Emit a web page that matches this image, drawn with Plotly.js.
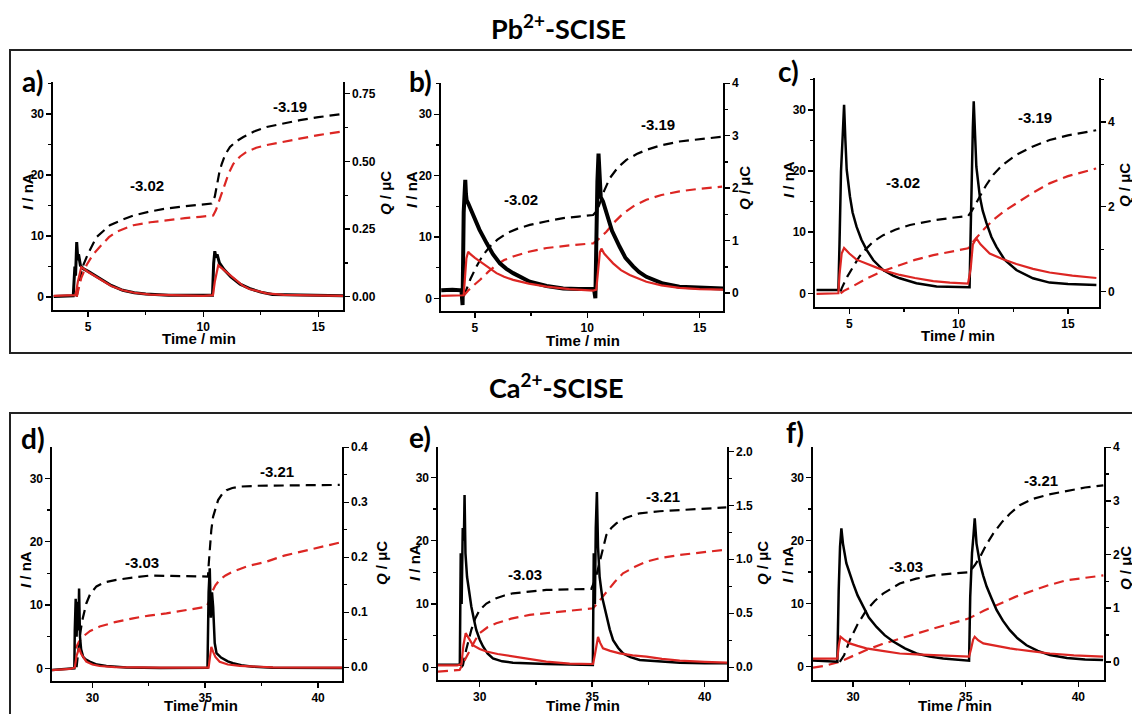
<!DOCTYPE html>
<html><head><meta charset="utf-8">
<script src="https://cdn.plot.ly/plotly-3.0.1.min.js"></script>
<style>html,body{margin:0;padding:0;background:#fff;} #chart{width:1132px;height:714px;}</style>
</head><body><div id="chart"></div>
<script>
// ---------------- DATA ----------------
// Panel a (Pb2+, top-left)
var a_tIk = [3.5,4.35,4.42,4.45,4.5,4.55,4.58,4.62,4.66,4.7,4.8,5.0,5.25,5.5,6.0,6.5,7.0,7.5,8.5,9.5,10.4,10.45,10.5,10.55,10.6,10.7,10.9,11.2,11.6,12.0,12.5,13.0,14.0,15.0,16.1];
var a_Ik  = [0.1,0.2,5.0,3.5,9.0,6.0,7.0,5.5,5.2,5.0,4.6,4.2,3.6,3.0,1.9,1.1,0.7,0.5,0.3,0.3,0.3,5.5,7.5,6.5,7.0,5.6,4.5,3.3,2.1,1.4,0.8,0.4,0.3,0.2,0.2];
var a_tIr = [3.5,4.45,4.55,4.7,5.0,5.5,6.0,6.5,7.0,7.7,8.5,10.0,10.42,10.5,10.65,11.0,11.3,11.7,12.0,12.75,13.5,15.0,16.1];
var a_Ir  = [0.2,0.3,2.5,4.9,4.1,2.9,1.8,1.1,0.7,0.4,0.3,0.2,0.3,2.5,5.2,4.1,3.0,1.9,1.3,0.6,0.35,0.2,0.2];
var a_tQk = [4.5,4.64,4.8,5.0,5.36,5.94,6.5,6.96,7.7,8.4,9.2,9.86,10.36,10.5,10.58,10.7,10.8,10.95,11.16,11.45,11.74,12.2,12.75,13.5,14.2,15.0,15.94];
var a_Qk  = [0.0,0.07,0.12,0.16,0.22,0.264,0.285,0.30,0.315,0.326,0.334,0.34,0.344,0.37,0.41,0.46,0.49,0.525,0.553,0.575,0.59,0.61,0.627,0.64,0.652,0.663,0.674];
var a_tQr = [4.5,4.7,4.93,5.2,5.5,5.9,6.23,6.96,7.7,8.4,9.2,9.86,10.43,10.55,10.65,10.8,10.94,11.1,11.3,11.6,11.88,12.3,12.75,13.5,14.2,15.0,15.94];
var a_Qr  = [0.0,0.07,0.117,0.155,0.184,0.22,0.24,0.264,0.275,0.283,0.29,0.295,0.30,0.32,0.344,0.385,0.418,0.455,0.49,0.518,0.535,0.55,0.56,0.573,0.584,0.597,0.609];

// Panel b
var b_tIk = [3.5,4.0,4.4,4.45,4.5,4.53,4.57,4.6,4.63,4.7,4.8,4.93,5.2,5.52,5.8,6.11,6.4,6.7,7.0,7.44,8.19,8.93,9.6,10.3,10.36,10.4,10.45,10.5,10.53,10.56,10.6,10.7,10.85,11.1,11.44,11.7,12.04,12.3,12.63,13.0,13.37,14.1,15.0,16.1];
var b_Ik  = [1.3,1.4,1.3,-1.1,14.0,18.0,19.3,17.0,16.0,15.5,14.6,13.3,11.2,9.0,7.2,5.7,4.8,4.1,3.5,2.7,2.0,1.6,1.5,1.5,0.0,15.0,19.0,23.6,20.0,18.0,16.5,15.8,13.8,11.0,8.4,6.6,5.2,4.3,3.5,2.9,2.4,1.9,1.7,1.6];
var b_tIr = [3.5,4.4,4.5,4.56,4.62,4.7,4.8,5.0,5.22,5.6,5.96,6.3,6.7,7.4,8.19,9.2,10.26,10.4,10.5,10.56,10.63,10.75,10.9,11.15,11.5,11.89,12.3,12.63,13.3,14.1,15.0,16.1];
var b_Ir  = [0.4,0.4,0.5,3.5,6.5,7.6,7.2,6.6,6.0,5.0,4.1,3.5,3.0,2.4,1.9,1.5,1.25,1.4,5.0,7.5,8.1,7.3,6.7,5.7,4.6,3.8,3.2,2.7,2.1,1.7,1.5,1.4];
var b_tQk = [4.5,4.56,4.8,5.07,5.35,5.67,6.0,6.41,6.9,7.44,8.2,8.93,9.6,10.26,10.45,10.56,10.75,11.0,11.35,11.74,12.2,12.63,13.3,14.1,15.0,15.96];
var b_Qk  = [-0.05,0.0,0.27,0.51,0.72,0.89,1.02,1.14,1.23,1.30,1.37,1.43,1.46,1.49,1.58,1.71,1.95,2.19,2.39,2.54,2.65,2.73,2.82,2.89,2.94,2.98];
var b_tQr = [4.48,4.7,5.0,5.22,5.6,5.96,6.3,6.7,7.4,8.19,9.2,10.26,10.5,10.85,11.2,11.6,12.1,12.63,13.3,14.1,15.0,16.0];
var b_Qr  = [-0.06,0.05,0.17,0.25,0.41,0.54,0.63,0.70,0.79,0.86,0.91,0.95,1.03,1.17,1.35,1.52,1.67,1.78,1.87,1.94,1.99,2.03];

// Panel c
var c_tIk = [3.5,4.5,4.55,4.62,4.7,4.76,4.82,4.88,5.03,5.15,5.33,5.55,5.79,6.1,6.55,7.0,7.31,8.07,8.99,9.8,10.5,10.55,10.6,10.65,10.69,10.75,10.81,10.97,11.1,11.27,11.5,11.73,12.1,12.64,13.4,14.16,15.0,16.3];
var c_Ik  = [0.55,0.55,8.0,20.0,26.0,30.8,25.0,20.2,15.8,13.2,10.9,8.8,7.1,5.4,3.8,2.9,2.45,1.64,1.1,1.0,1.0,10.0,22.0,27.0,31.4,25.0,20.7,15.8,13.5,11.5,9.2,7.6,5.5,3.8,2.45,1.75,1.5,1.36];
var c_tIr = [3.5,4.5,4.55,4.65,4.76,5.0,5.33,5.8,6.25,6.8,7.31,8.0,8.84,9.6,10.43,10.55,10.65,10.81,11.0,11.42,12.0,12.64,13.4,14.16,15.2,16.3];
var c_Ir  = [-0.1,0.0,3.0,6.5,7.4,6.5,5.5,4.8,4.2,3.5,3.0,2.5,2.0,1.75,1.6,4.0,8.0,9.0,8.0,6.5,5.6,4.8,4.0,3.4,2.9,2.5];
var c_tQk = [4.6,4.65,4.9,5.18,5.45,5.79,6.1,6.55,7.1,7.77,8.4,8.99,9.7,10.43,10.6,10.8,10.97,11.25,11.58,12.0,12.64,13.4,14.16,15.0,16.29];
var c_Qk  = [0.0,0.08,0.35,0.59,0.82,1.02,1.18,1.33,1.46,1.57,1.64,1.69,1.74,1.78,1.9,2.08,2.24,2.5,2.75,2.98,3.22,3.42,3.57,3.68,3.80];
var c_tQr = [4.6,4.75,5.2,5.79,6.5,7.31,8.0,8.84,9.6,10.43,10.7,11.12,11.6,12.1,12.64,13.4,14.16,15.0,16.29];
var c_Qr  = [-0.04,0.02,0.14,0.31,0.48,0.63,0.75,0.86,0.94,1.02,1.2,1.45,1.7,1.9,2.08,2.33,2.55,2.72,2.90];

// Panel d (Ca2+, bottom-left)
var d_tIk = [28.2,28.8,29.2,29.22,29.26,29.3,29.34,29.38,29.41,29.45,29.5,29.59,29.7,29.88,30.2,30.62,31.5,33.0,34.5,35.1,35.15,35.2,35.25,35.3,35.35,35.42,35.5,35.7,36.0,36.23,36.6,37.12,38.0,39.5,41.1];
var d_Ik  = [-0.25,-0.1,0.0,6.0,11.0,5.0,10.5,6.0,12.6,5.0,3.0,1.8,1.4,1.05,0.6,0.37,0.15,0.05,0.05,0.1,12.0,15.8,8.0,12.0,9.7,4.0,2.4,1.7,1.1,0.8,0.5,0.26,0.1,0.05,0.05];
var d_tIr = [28.2,29.0,29.22,29.3,29.41,29.5,29.73,30.0,30.32,31.0,33.0,35.15,35.2,35.27,35.35,35.45,35.64,36.0,36.53,38.0,41.1];
var d_Ir  = [-0.3,-0.1,0.1,2.0,3.2,2.3,1.05,0.6,0.37,0.2,0.1,0.1,1.5,3.4,2.6,1.8,1.05,0.6,0.4,0.15,0.1];
var d_tQk = [29.3,29.44,29.55,29.63,29.73,29.9,30.18,30.5,31.06,31.8,32.54,33.5,34.5,35.12,35.15,35.2,35.27,35.35,35.45,35.57,35.75,35.94,36.2,36.53,37.3,38.45,39.5,40.96];
var d_Qk  = [0.0,0.056,0.085,0.10,0.116,0.133,0.147,0.154,0.159,0.163,0.1667,0.166,0.165,0.165,0.185,0.215,0.25,0.274,0.29,0.304,0.315,0.322,0.326,0.3285,0.330,0.330,0.331,0.3315];
var d_tQr = [29.26,29.4,29.59,29.9,30.32,31.0,31.8,32.5,33.28,34.2,35.05,35.15,35.27,35.45,35.64,35.9,36.23,36.9,37.71,38.5,39.19,40.1,40.96];
var d_Qr  = [0.0345,0.046,0.056,0.066,0.074,0.082,0.089,0.094,0.098,0.104,0.110,0.118,0.1345,0.149,0.159,0.167,0.174,0.184,0.192,0.203,0.210,0.219,0.2267];

// Panel e
var e_tIk = [28.15,29.0,29.12,29.16,29.2,29.25,29.3,29.33,29.37,29.44,29.53,29.63,29.75,29.85,30.0,30.15,30.35,30.59,31.0,31.48,32.96,34.0,35.03,35.07,35.12,35.16,35.21,35.26,35.33,35.45,35.63,35.78,35.93,36.15,36.37,36.7,37.11,38.0,38.89,40.0,41.0];
var e_Ik  = [0.4,0.4,0.4,18.0,10.0,22.0,20.0,27.2,18.0,14.3,11.8,9.6,7.5,5.9,4.4,3.3,2.2,1.4,0.95,0.74,0.53,0.45,0.37,18.0,10.0,22.0,27.7,19.0,14.3,11.0,8.0,6.0,4.3,3.1,2.2,1.6,1.16,0.9,0.74,0.65,0.63];
var e_tIr = [28.15,29.0,29.19,29.28,29.38,29.5,29.7,30.0,30.3,30.8,31.48,32.2,32.96,34.0,35.04,35.12,35.2,35.26,35.35,35.48,35.8,36.22,36.8,37.41,38.1,38.89,40.0,41.0];
var e_Ir  = [0.3,0.3,0.5,3.5,5.4,4.7,3.5,2.9,2.5,2.1,1.7,1.3,0.9,0.6,0.53,2.0,4.0,4.8,3.9,3.0,2.6,2.2,1.9,1.7,1.35,1.05,0.85,0.74];
var e_tQk = [29.2,29.26,29.4,29.5,29.63,29.8,30.0,30.3,30.74,31.1,31.48,32.2,32.96,34.0,34.96,35.15,35.33,35.5,35.63,35.85,36.07,36.5,37.11,38.0,38.89,40.0,40.96];
var e_Qk  = [0.0,0.02,0.16,0.25,0.346,0.45,0.53,0.59,0.64,0.665,0.685,0.70,0.716,0.722,0.725,0.82,0.963,1.12,1.225,1.29,1.333,1.385,1.426,1.445,1.457,1.47,1.48];
var e_tQr = [28.15,29.11,29.3,29.56,29.8,30.0,30.35,30.74,31.4,32.22,33.0,33.7,34.4,35.04,35.3,35.63,36.0,36.37,36.9,37.41,38.1,38.89,40.0,40.96];
var e_Qr  = [-0.04,-0.025,0.05,0.16,0.25,0.315,0.37,0.407,0.45,0.485,0.503,0.515,0.53,0.546,0.61,0.70,0.79,0.87,0.93,0.978,1.015,1.04,1.07,1.09];

// Panel f
var f_tIk = [28.2,29.0,29.3,29.36,29.42,29.48,29.55,29.7,29.85,30.0,30.2,30.44,30.7,31.04,31.4,31.78,32.3,32.81,33.4,34.0,34.6,35.15,35.2,35.28,35.35,35.4,35.48,35.63,35.78,35.93,36.15,36.37,36.65,36.96,37.3,37.7,38.2,38.74,39.5,40.3,41.1];
var f_Ik  = [1.0,0.9,0.8,12.0,19.0,21.9,19.5,16.4,14.7,13.2,11.3,9.5,7.8,6.3,5.0,4.0,2.9,2.1,1.6,1.3,1.1,0.95,11.0,18.0,21.0,23.5,19.5,16.4,14.4,12.7,10.8,9.0,7.3,5.8,4.5,3.4,2.5,1.85,1.4,1.15,1.06];
var f_tIr = [28.2,29.0,29.3,29.37,29.44,29.6,29.85,30.2,30.59,31.3,32.07,32.8,33.56,34.4,35.15,35.25,35.33,35.4,35.55,35.78,36.3,36.96,37.8,38.74,39.8,41.1];
var f_Ir  = [1.3,1.3,1.3,3.5,4.75,4.3,3.7,3.3,2.9,2.5,2.1,1.95,1.85,1.7,1.6,3.0,4.3,4.75,4.2,3.7,3.3,2.9,2.5,2.1,1.8,1.6];
var f_tQk = [29.41,29.6,29.85,30.2,30.59,30.95,31.33,31.7,32.07,32.8,33.56,34.4,35.15,35.4,35.63,35.9,36.22,36.6,36.96,37.4,38.0,38.7,39.48,40.3,41.11];
var f_Qk  = [0.0,0.12,0.40,0.70,0.96,1.13,1.27,1.37,1.46,1.55,1.61,1.645,1.67,1.8,1.95,2.17,2.39,2.6,2.76,2.92,3.04,3.12,3.19,3.25,3.29];
var f_tQr = [28.22,28.8,29.41,30.0,30.59,31.3,32.07,32.8,33.56,34.4,35.15,35.8,36.52,37.2,38.0,38.7,39.48,40.3,41.11];
var f_Qr  = [-0.11,-0.07,0.0,0.11,0.22,0.33,0.43,0.53,0.62,0.72,0.81,0.95,1.09,1.21,1.33,1.43,1.52,1.57,1.61];

// Labels
var panelLabels = ['a)','b)','c)','d)','e)','f)'];
var lowLabels  = ['-3.02','-3.02','-3.02','-3.03','-3.03','-3.03'];
var highLabels = ['-3.19','-3.19','-3.19','-3.21','-3.21','-3.21'];
var rowTitles = ['Pb<sup>2+</sup>-SCISE','Ca<sup>2+</sup>-SCISE'];

var seriesData = [
  [a_tIk,a_Ik,a_tIr,a_Ir,a_tQk,a_Qk,a_tQr,a_Qr],
  [b_tIk,b_Ik,b_tIr,b_Ir,b_tQk,b_Qk,b_tQr,b_Qr],
  [c_tIk,c_Ik,c_tIr,c_Ir,c_tQk,c_Qk,c_tQr,c_Qr],
  [d_tIk,d_Ik,d_tIr,d_Ir,d_tQk,d_Qk,d_tQr,d_Qr],
  [e_tIk,e_Ik,e_tIr,e_Ir,e_tQk,e_Qk,e_tQr,e_Qr],
  [f_tIk,f_Ik,f_tIr,f_Ir,f_tQk,f_Qk,f_tQr,f_Qr]
];

// ---------------- LAYOUT (pixel geometry) ----------------
var W = 1132, H = 714;
var RED = '#dc2623';
var panels = [
  {px:[53,343],  py:[82,310],  xr:[3.47,16.07],  yl:[-2.13,35.25], yr:[-0.049,0.793], qd:0.25, qm:0.125, qf:'.2f', kw:3,
   lab:[32,81], lo:[147,186], hi:[290,106], yt:[28,192], qt:[386,193], xt:[199,338]},
  {px:[441,723], py:[83,311],  xr:[3.49,16.04],  yl:[-2.07,35.1],  yr:[-0.34,4.005], qd:1, qm:0.5, qf:'d', kw:4,
   lab:[420,81], lo:[521,199], hi:[658,124], yt:[412,190], qt:[745,188], xt:[583,340]},
  {px:[815,1099],py:[78,307],  xr:[3.43,16.42],  yl:[-2.24,35.2],  yr:[-0.36,5.03], qd:2, qm:1, qf:'d', kw:2.5,
   lab:[788,71], lo:[903,183], hi:[1035,118], yt:[788,180], qt:[1125,185], xt:[958,335]},
  {px:[52,342],  py:[447,681], xr:[28.21,41.06], yl:[-2.0,34.96],  yr:[-0.025,0.4005], qd:0.1, qm:0.05, qf:'.1f', kw:2.5,
   lab:[33,438], lo:[142,562], hi:[277,471], yt:[25,570], qt:[381,563], xt:[201,705]},
  {px:[438,727], py:[447,680], xr:[28.15,40.99], yl:[-2.0,34.8],   yr:[-0.118,2.04], qd:0.5, qm:0.25, qf:'.1f', kw:2.5,
   lab:[420,437], lo:[525,574], hi:[663,496], yt:[414,563], qt:[762,563], xt:[583,705]},
  {px:[813,1104],py:[447,680], xr:[28.22,41.14], yl:[-2.1,34.8],   yr:[-0.34,4.005], qd:1, qm:0.5, qf:'d', kw:2.5,
   lab:[795,432], lo:[906,566], hi:[1041,480], yt:[787,565], qt:[1125,568], xt:[955,705]}
];

var FONT = 'Liberation Sans, Arial, sans-serif';
var TITLEFONT = 'Lato, Open Sans, sans-serif';
var layout = {
  width: W, height: H, margin:{l:0,r:0,t:0,b:0},
  paper_bgcolor:'#fff', plot_bgcolor:'rgba(0,0,0,0)', showlegend:false,
  font:{family:FONT, color:'#000'},
  annotations:[], shapes:[]
};
var traces = [];

function px2x(p){ return p / W; }
function py2y(p){ return 1 - p / H; }
function ann(text, p, size, angle, family){
  layout.annotations.push({xref:'paper', yref:'paper', x:px2x(p[0]), y:py2y(p[1]),
    xanchor:'center', yanchor:'middle', showarrow:false, text:text, textangle: angle||0,
    font:{family: family||FONT, size:size, color:'#000', weight:'bold'}});
}
var axBase = {showline:true, linecolor:'#000', linewidth:1.6, ticks:'outside', ticklen:5, tickwidth:1.5,
  tickcolor:'#000', showgrid:false, zeroline:false, fixedrange:true,
  tickfont:{family:FONT, size:12, color:'#000', weight:'bold'}};
function merge(a,b){ var o={}; for(var k in a) o[k]=a[k]; for(var k2 in b) o[k2]=b[k2]; return o; }

panels.forEach(function(P, i){
  var n = i+1, yq = 2*i+1, yi = 2*i+2;
  var dom = [py2y(P.py[1]), py2y(P.py[0])];
  layout['xaxis'+n] = merge(axBase, {domain:[px2x(P.px[0]), px2x(P.px[1])], anchor:'y'+yq, range:P.xr,
    tickmode:'linear', tick0:0, dtick:5,
    minor:{ticks:'outside', ticklen:3, tickwidth:1.3, tickcolor:'#000', tickmode:'linear', tick0:0, dtick:2.5, showgrid:false}});
  // Q axis (right) is the base axis; I axis (left) overlays it so currents draw on top
  layout['yaxis'+yq] = merge(axBase, {domain:dom, anchor:'x'+n, side:'right', range:P.yr,
    tickmode:'linear', tick0:0, dtick:P.qd, tickformat:P.qf,
    minor:{ticks:'outside', ticklen:3, tickwidth:1.3, tickcolor:'#000', tickmode:'linear', tick0:0, dtick:P.qm, showgrid:false}});
  layout['yaxis'+yi] = merge(axBase, {overlaying:'y'+yq, anchor:'x'+n, side:'left', range:P.yl,
    tickmode:'linear', tick0:0, dtick:10,
    minor:{ticks:'outside', ticklen:3, tickwidth:1.3, tickcolor:'#000', tickmode:'linear', tick0:0, dtick:5, showgrid:false}});

  var S = seriesData[i];
  traces.push({x:S[4], y:S[5], xaxis:'x'+n, yaxis:'y'+yq, mode:'lines', line:{color:'#000', width:2.2, dash:'10px,6px'}, hoverinfo:'skip'});
  traces.push({x:S[6], y:S[7], xaxis:'x'+n, yaxis:'y'+yq, mode:'lines', line:{color:RED, width:2.2, dash:'10px,6px'}, hoverinfo:'skip'});
  traces.push({x:S[0], y:S[1], xaxis:'x'+n, yaxis:'y'+yi, mode:'lines', line:{color:'#000', width:P.kw}, hoverinfo:'skip'});
  traces.push({x:S[2], y:S[3], xaxis:'x'+n, yaxis:'y'+yi, mode:'lines', line:{color:RED, width:2.2}, hoverinfo:'skip'});

  ann(panelLabels[i], P.lab, 28, 0, TITLEFONT);
  ann(lowLabels[i], P.lo, 15, 0);
  ann(highLabels[i], P.hi, 15, 0);
  ann('<i>I</i> / nA', P.yt, 15, -90);
  ann('<i>Q</i> / \u03bcC', P.qt, 15, -90);
  ann('Time / min', P.xt, 15, 0);
});

// row titles and frames
ann(rowTitles[0], [558,27], 27, 0, TITLEFONT);
ann(rowTitles[1], [556,386], 27, 0, TITLEFONT);
layout.shapes.push({type:'rect', xref:'paper', yref:'paper', x0:px2x(10), x1:px2x(1145), y0:py2y(50), y1:py2y(353), line:{color:'#222', width:2}});
layout.shapes.push({type:'rect', xref:'paper', yref:'paper', x0:px2x(10), x1:px2x(1145), y0:py2y(413), y1:py2y(730), line:{color:'#222', width:2}});

Plotly.newPlot('chart', traces, layout, {staticPlot:true, displayModeBar:false});
</script>
</body></html>
